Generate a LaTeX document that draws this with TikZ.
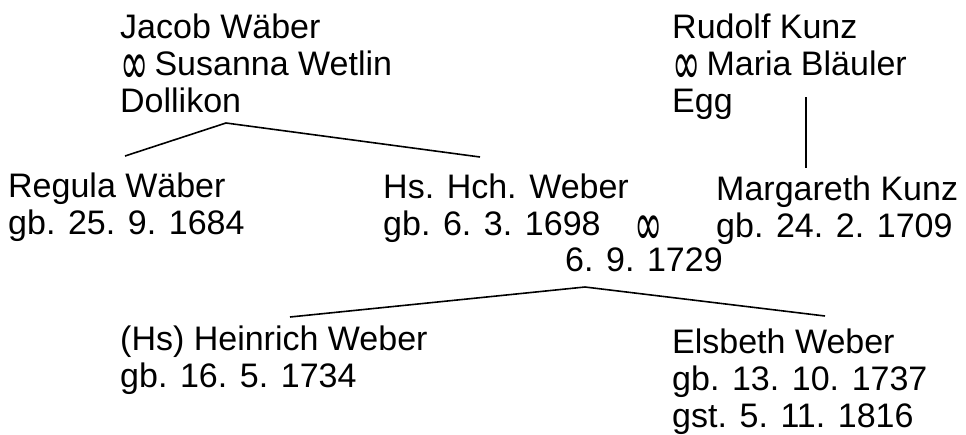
\documentclass[tikz,border=0pt]{standalone}
\usepackage{fontspec}
\setmainfont{Liberation Sans}
\newfontfamily\symfont{DejaVu Sans}
\newcommand{\mysymb}{{\symfont\smash{\raisebox{-0.29em}{\scalebox{1.0}[1.8]{∞}}}}\kern-0.1em}
\begin{document}
\begin{tikzpicture}[x=1pt,y=-1pt,
  person/.style={anchor=base west,inner sep=0pt,align=left,
    font=\fontsize{34}{37}\selectfont},
  link/.style={draw=black,line width=1.6pt}]
\useasboundingbox[fill=white] (0,0) rectangle (966,434);
% people (anchor = baseline of the last line)
\node[person] (jacob) at (120,112) {Jacob Wäber\\\mysymb{} Susanna Wetlin\\Dollikon};
\node[person] (rudolf) at (672,112) {Rudolf Kunz\\\mysymb{} Maria Bläuler\\Egg};
\node[person] (regula) at (8,234) {Regula Wäber\\gb. 25. 9. 1684};
\node[person] (hans) at (383,235) {Hs. Hch. Weber\\gb. 6. 3. 1698};
\node[person] (marr) at (634,236) {\mysymb};
\node[person] (marg) at (716,237) {Margareth Kunz\\gb. 24. 2. 1709};
\node[person] (date) at (565,271) {6. 9. 1729};
\node[person] (heinrich) at (120,387) {(Hs) Heinrich Weber\\gb. 16. 5. 1734};
\node[person] (elsbeth) at (672,427) {Elsbeth Weber\\gb. 13. 10. 1737\\gst. 5. 11. 1816};
% junction points
\coordinate (jtop) at (226,123);
\coordinate (jl) at (125,156);
\coordinate (jr) at (480,157);
\coordinate (rtop) at (806,97);
\coordinate (rbot) at (806,168);
\coordinate (mtop) at (585,287);
\coordinate (ml) at (290,317);
\coordinate (mr) at (825,316);
% connectors
\draw[link] (jl) -- (jtop) -- (jr);
\draw[link] (rtop) -- (rbot);
\draw[link] (ml) -- (mtop) -- (mr);
\end{tikzpicture}
\end{document}
